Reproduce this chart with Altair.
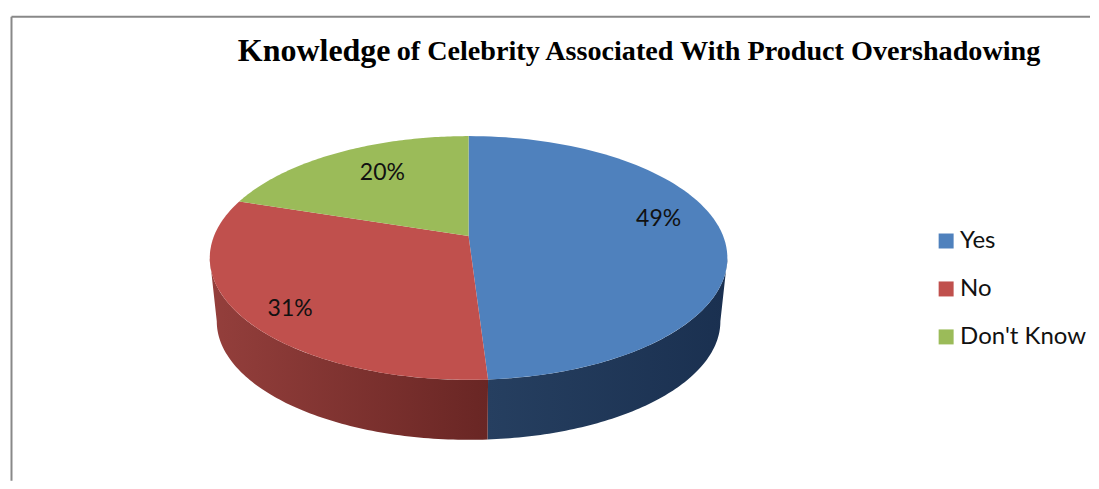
import numpy as np
import pandas as pd
import altair as alt

CATEGORIES = ["Yes", "No", "Don't Know"]
SHARES = [49, 31, 20]
LABELS = ["49%", "31%", "20%"]
COLORS = ["#4F81BD", "#C0504D", "#9BBB59"]
WALL_STOPS = [("#263f60", "#1a3050"), ("#943f3c", "#692624")]
LABEL_SHIFT = [(0, -14), (-14, 14), (15, 1)]
TITLE_BIG = "Knowledge"
TITLE_REST = "of Celebrity Associated With Product Overshadowing"

W, H = 1083, 473
CX, CY = 461, 228      # apex of the pie, in plot coordinates
A, B, K = 254.8, 118.0, 0.18   # perspective of the tilted disc
WALL_DROP, WALL_SCALE = 64, 0.973


def project(theta, r=1.0, drop=0.0, scale=1.0):
    u, v = np.sin(theta) * r, np.cos(theta) * r
    d = 1 + K * v
    return CX + scale * A * u / d, CY + drop + scale * B * (-v) / d


edges = np.radians(np.concatenate([[0], np.cumsum(SHARES)]) * 3.6)

faces = []
for i, cat in enumerate(CATEGORIES):
    th = np.linspace(edges[i], edges[i + 1], 90)
    x, y = project(th)
    xs = np.concatenate([[CX], x, [CX]])
    ys = np.concatenate([[CY], y, [CY]])
    faces.append(pd.DataFrame({"x": xs, "y": ys, "o": np.arange(len(xs)), "slice": cat}))
faces = pd.concat(faces)

xscale = alt.Scale(domain=[0, W], range=[0, W], nice=False, zero=False)
yscale = alt.Scale(domain=[0, H], range=[0, H], nice=False, zero=False)
X = alt.X("x:Q", scale=xscale, axis=None)
Y = alt.Y("y:Q", scale=yscale, axis=None)

# side walls: from the widest point of the disc round the front
t_right = np.arccos(-K)
t_left = 2 * np.pi - t_right
layers = []
for i, (a, b) in enumerate([(t_right, edges[1]), (edges[1], t_left)]):
    th = np.linspace(a, b, 90)
    x0, y0 = project(th)
    x1, y1 = project(th[::-1], drop=WALL_DROP, scale=WALL_SCALE)
    df = pd.DataFrame({"x": np.concatenate([x0, x1]), "y": np.concatenate([y0, y1])})
    df["o"] = np.arange(len(df))
    c0, c1 = WALL_STOPS[i]
    stops = [alt.GradientStop(color=c0, offset=0), alt.GradientStop(color=c1, offset=1)]
    layers.append(
        alt.Chart(df).mark_line(
            strokeWidth=0,
            fill=alt.LinearGradient(gradient="linear", x1=0, x2=1, y1=0, y2=0, stops=stops),
        ).encode(x=X, y=Y, order="o:Q")
    )

legend = alt.Legend(
    orient="none", legendX=927, legendY=221, title=None,
    symbolType="square", symbolSize=225, symbolStrokeWidth=0,
    labelFont="Lato", labelFontSize=24, labelColor="#111111",
    rowPadding=24, labelOffset=2, labelLimit=200,
)
tops = alt.Chart(faces).mark_line(strokeWidth=0).encode(
    x=X, y=Y, order="o:Q", detail="slice:N",
    fill=alt.Fill("slice:N", scale=alt.Scale(domain=CATEGORIES, range=COLORS), legend=legend),
)
layers.append(tops)

# percentage labels, anchored inside their slices
mids = (edges[:-1] + edges[1:]) / 2
lx, ly = project(mids, r=0.75)
for i in range(3):
    d = pd.DataFrame({"x": [lx[i]], "y": [ly[i]], "t": [LABELS[i]]})
    layers.append(
        alt.Chart(d).mark_text(
            font="Lato", fontSize=23, color="#111111", align="center", baseline="middle",
            dx=LABEL_SHIFT[i][0], dy=LABEL_SHIFT[i][1],
        ).encode(x=X, y=Y, text="t:N")
    )

# title
anchor = pd.DataFrame({"a": [0]})
layers.append(alt.Chart(anchor).mark_text(
    text=TITLE_BIG, font="Liberation Serif", fontWeight="bold", fontSize=32, align="left", color="#000000"
).encode(x=alt.value(230), y=alt.value(43)))
layers.append(alt.Chart(anchor).mark_text(
    text=TITLE_REST, font="Liberation Serif", fontWeight="bold", fontSize=28.2, align="left", color="#000000"
).encode(x=alt.value(389), y=alt.value(44)))

# page frame
layers.append(alt.Chart(anchor).mark_rule(color="#888888", strokeWidth=2).encode(
    x=alt.value(3.5), x2=alt.value(W), y=alt.value(8.5)))
layers.append(alt.Chart(anchor).mark_rule(color="#888888", strokeWidth=2).encode(
    x=alt.value(3.5), y=alt.value(8.5), y2=alt.value(H)))

chart = alt.layer(*layers).resolve_scale(x="shared", y="shared").properties(
    width=W, height=H, padding=0, background="white"
).configure_view(strokeWidth=0)

chart.save("out.html", embed_options={"renderer": "svg", "actions": False})
